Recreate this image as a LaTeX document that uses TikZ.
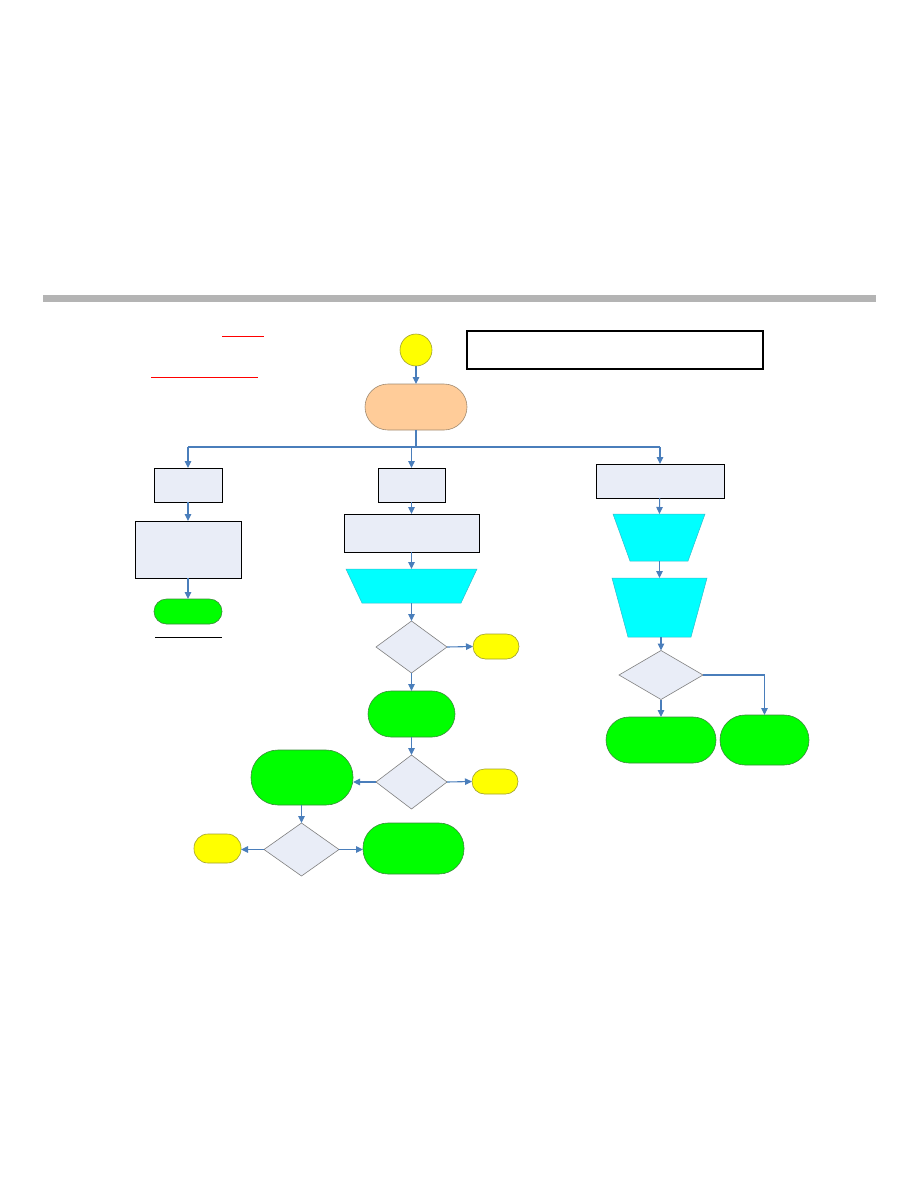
\documentclass[tikz,border=0pt]{standalone}
\usetikzlibrary{shapes.geometric,arrows.meta}
\definecolor{lightfill}{HTML}{E9EDF7}
\definecolor{termgreen}{HTML}{00FF00}
\definecolor{gborder}{HTML}{3A8A3A}
\definecolor{termyellow}{HTML}{FFFF00}
\definecolor{yborder}{HTML}{A0A030}
\definecolor{peach}{HTML}{FFCC99}
\definecolor{pborder}{HTML}{A08A70}
\definecolor{trapcyan}{HTML}{00FFFF}
\definecolor{cborder}{HTML}{33BBCC}
\definecolor{arrowblue}{HTML}{4A7EBB}
\definecolor{barGray}{HTML}{B4B4B4}
\definecolor{dborder}{HTML}{7F7F7F}
\tikzset{
  base/.style={inner sep=0pt, outer sep=0pt},
  procbox/.style={base, rectangle, draw=black, fill=lightfill, line width=0.9pt},
  gterm/.style={base, rectangle, fill=termgreen, draw=gborder, line width=0.6pt, rounded corners=#1},
  yterm/.style={base, rectangle, fill=termyellow, draw=yborder, line width=0.6pt, rounded corners=#1},
  decide/.style={base, diamond, fill=lightfill, draw=dborder, line width=0.6pt},
  ghost/.style={base, rectangle},
  trapfill/.style={fill=trapcyan, draw=cborder, line width=0.5pt},
  conn/.style={draw=arrowblue, line width=1.1pt, -{Triangle[length=7pt,width=6.5pt]}},
  plainconn/.style={draw=arrowblue, line width=1.1pt},
}
\newcommand{\trapdraw}[2]{%
  \filldraw[trapfill] (#1.north west) -- (#1.north east) -- ([xshift=-#2pt]#1.south east) -- ([xshift=#2pt]#1.south west) -- cycle;}
\begin{document}
\begin{tikzpicture}[x=1pt,y=-1pt]
\useasboundingbox (0,0) rectangle (918,1188);
% header bar
\fill[barGray] (43,295) rectangle (876,302);
% red lines
\coordinate (r1a) at (222,336); \coordinate (r1b) at (264,336);
\coordinate (r2a) at (151,377); \coordinate (r2b) at (258,377);
\draw[red, line width=1pt] (r1a) -- (r1b);
\draw[red, line width=1pt] (r2a) -- (r2b);
% top
\node[base, circle, fill=termyellow, draw=yborder, line width=0.6pt, minimum size=32pt] (circ) at (416,350) {};
\node[base, rectangle, draw=black, line width=1.4pt, minimum width=296pt, minimum height=38pt] (note) at (615,350) {};
\node[base, rectangle, fill=peach, draw=pborder, line width=0.6pt, rounded corners=23pt, minimum width=102pt, minimum height=46pt] (org) at (416,407) {};
% left column
\node[procbox, minimum width=68pt, minimum height=34pt] (l1) at (188,485) {};
\node[procbox, minimum width=106pt, minimum height=57pt] (l2) at (188,549.5) {};
\node[gterm=12.5pt, minimum width=68pt, minimum height=25pt] (l3) at (188,611.5) {};
\coordinate (ula) at (155,637); \coordinate (ulb) at (222,637);
\draw[black, line width=1pt] (ula) -- (ulb);
% middle column
\node[procbox, minimum width=67pt, minimum height=34pt] (m1) at (411.5,485) {};
\node[procbox, minimum width=135pt, minimum height=38pt] (m2) at (411.5,533) {};
\node[ghost, minimum width=131pt, minimum height=34pt] (m3) at (411.5,586) {};
\trapdraw{m3}{16}
\node[decide, minimum width=71pt, minimum height=52pt] (m4) at (411.5,647) {};
\node[yterm=12.5pt, minimum width=46pt, minimum height=25pt] (m4r) at (496,646.5) {};
\node[gterm=23pt, minimum width=87pt, minimum height=46pt] (m5) at (411.5,714) {};
\node[decide, minimum width=71pt, minimum height=54pt] (m6) at (411.5,782) {};
\node[yterm=12.5pt, minimum width=46pt, minimum height=25pt] (m6r) at (495,781.5) {};
\node[gterm=27pt, minimum width=102pt, minimum height=55pt] (m6l) at (302,777.5) {};
\node[decide, minimum width=75pt, minimum height=53pt] (d7) at (301.5,849.5) {};
\node[yterm=14pt, minimum width=47pt, minimum height=29pt] (d7l) at (217.5,848.5) {};
\node[gterm=25pt, minimum width=101pt, minimum height=51pt] (d7r) at (413.5,848.5) {};
% right column
\node[procbox, minimum width=128pt, minimum height=34pt] (r1) at (660,481) {};
\node[ghost, minimum width=92pt, minimum height=47pt] (rt2) at (659,537.5) {};
\trapdraw{rt2}{17}
\node[ghost, minimum width=95pt, minimum height=59pt] (rt3) at (659.5,607.5) {};
\trapdraw{rt3}{16}
\node[decide, minimum width=84pt, minimum height=49pt] (r4) at (661,675) {};
\node[gterm=23pt, minimum width=110pt, minimum height=46pt] (r5) at (661,740) {};
\node[gterm=25pt, minimum width=89pt, minimum height=50pt] (r6) at (764.5,740) {};
% connectors
\draw[conn] (circ) -- (org);
\coordinate (bl) at (188,447);
\coordinate (br) at (660,447);
\draw[draw=arrowblue, line width=1.8pt] (org.south) -- (org.south |- bl);
\draw[plainconn] (bl) -- (br);
\draw[conn] (bl) -- (l1.north);
\draw[conn] (m1.north |- bl) -- (m1.north);
\draw[conn] (br) -- (r1.north);
\draw[conn] (l1) -- (l2);
\draw[conn] (l2) -- (l3);
\draw[conn] (m1) -- (m2);
\draw[conn] (m2) -- (m3);
\draw[conn] (m3.south) -- (m4.north);
\draw[conn] (m4.east) -- (m4r.west);
\draw[conn] (m4.south) -- (m5.north);
\draw[conn] (m5) -- (m6);
\draw[conn] (m6.east) -- (m6r.west);
\draw[conn] (m6.west) -- (m6.west -| m6l.east);
\draw[conn] (m6l.south -| d7.north) -- (d7.north);
\draw[conn] (d7.west) -- (d7.west -| d7l.east);
\draw[conn] (d7.east) -- (d7.east -| d7r.west);
\draw[conn] (r1) -- (rt2);
\draw[conn] (rt2.south -| rt3.north) -- (rt3.north);
\draw[conn] (rt3.south -| r4.north) -- (r4.north);
\draw[conn] (r4.south) -- (r5.north);
\draw[conn] (r4.east) -| (r6.north);
\end{tikzpicture}
\end{document}
